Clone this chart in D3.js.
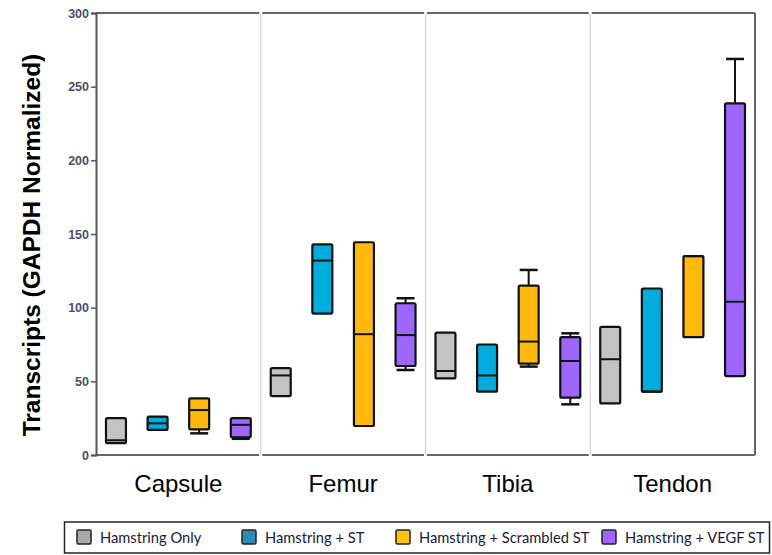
<!DOCTYPE html>
<html><head><meta charset="utf-8">
<script src="https://cdn.jsdelivr.net/npm/d3@7"></script>
<style>body{margin:0;background:#fff}svg{display:block}</style>
</head><body>
<svg id="chart" width="772" height="555"></svg>
<script>
// ---- data ----
const tissues = ["Capsule", "Femur", "Tibia", "Tendon"];
const groups = ["Hamstring Only", "Hamstring + ST", "Hamstring + Scrambled ST", "Hamstring + VEGF ST"];
const yTicks = [0, 50, 100, 150, 200, 250, 300];
// [min, q1, median, q3, max] per tissue
const hamstringOnly  = [[8, 8, 10, 25, 25], [40, 40, 54, 59, 59], [52, 52, 57, 83, 83], [35, 35, 65, 87, 87]];
const hamstringST    = [[17, 17, 21.5, 26, 26], [96, 96, 132, 143, 143], [43, 43, 54, 75, 75], [43, 43, 43, 113, 113]];
const hamstringScr   = [[14.7, 17.4, 30.5, 38.5, 38.5], [19.7, 19.7, 82, 144.4, 144.4], [60, 62, 77, 115, 125.6], [80, 80, 135, 135, 135]];
const hamstringVEGF  = [[11, 12, 20.5, 25, 25], [57.7, 60.4, 81.4, 103, 106.4], [34.4, 38.9, 63.8, 80, 82.6], [53.6, 53.6, 104, 238.7, 268.8]];
const seriesData = [hamstringOnly, hamstringST, hamstringScr, hamstringVEGF];
const boxColors = ["#c3c3c3", "#00acdc", "#ffb90f", "#9c66ff"];
const legendColors = ["#a9a9a9", "#2b8db3", "#ffc20e", "#9c66ff"];

// ---- layout ----
const svg = d3.select("#chart");
const L = 96, R = 755, T = 13, B = 455;
const y = d3.scaleLinear().domain([0, 300]).range([B, T]);
const xOuter = d3.scaleBand().domain(tissues).range([L, R]).padding(0);
const xInner = d3.scaleBand().domain(groups).range([0, xOuter.bandwidth()]).paddingInner(0.52).paddingOuter(0.24);

// separators
svg.selectAll("line.sep").data(tissues.slice(1)).join("line")
  .attr("x1", d => xOuter(d)).attr("x2", d => xOuter(d))
  .attr("y1", T).attr("y2", B)
  .attr("stroke", "#dcdcdc").attr("stroke-width", 1.5);
// top / bottom border segments per panel
tissues.forEach(t => {
  const x0 = xOuter(t) + (t === tissues[0] ? 0 : 1.5), x1 = xOuter(t) + xOuter.bandwidth() - (t === tissues[3] ? 0 : 1.5);
  [T, B].forEach(yy => svg.append("line").attr("x1", x0).attr("x2", x1).attr("y1", yy).attr("y2", yy)
    .attr("stroke", "#666").attr("stroke-width", 2));
});
svg.append("line").attr("x1", R).attr("x2", R).attr("y1", T).attr("y2", B).attr("stroke", "#666").attr("stroke-width", 2);

// y axis
const yAxis = svg.append("g").attr("transform", `translate(${L},0)`)
  .call(d3.axisLeft(y).tickValues(yTicks).tickSize(5).tickPadding(2));
yAxis.select(".domain").attr("stroke", "#555").attr("stroke-width", 2);
yAxis.selectAll(".tick line").attr("stroke", "#555").attr("stroke-width", 1.5);
yAxis.selectAll(".tick text").attr("fill", "#4d4d6e").attr("font-family", "Liberation Sans, Arial, sans-serif")
  .attr("font-size", 12.5).attr("font-weight", "bold");

// x labels
svg.selectAll("text.xl").data(tissues).join("text")
  .attr("x", d => xOuter(d) + xOuter.bandwidth() / 2).attr("y", 492)
  .attr("text-anchor", "middle").attr("font-family", "Liberation Sans, Arial, sans-serif")
  .attr("font-size", 24).attr("fill", "#000").text(d => d);

// y title
svg.append("text").attr("transform", `translate(40,245) rotate(-90)`)
  .attr("text-anchor", "middle").attr("font-family", "Liberation Sans, Arial, sans-serif")
  .attr("font-weight", "bold").attr("font-size", 24.5).attr("fill", "#000")
  .text("Transcripts (GAPDH Normalized)");

// boxes
const bw = xInner.bandwidth();
groups.forEach((g, gi) => {
  tissues.forEach((t, ti) => {
    const [mn, q1, md, q3, mx] = seriesData[gi][ti];
    const cx = xOuter(t) + xInner(g) + bw / 2;
    const gEl = svg.append("g");
    const cap = bw * 0.9;
    if (mx > q3) {
      gEl.append("line").attr("x1", cx).attr("x2", cx).attr("y1", y(q3)).attr("y2", y(mx)).attr("stroke", "#111").attr("stroke-width", 2);
      gEl.append("line").attr("x1", cx - cap / 2).attr("x2", cx + cap / 2).attr("y1", y(mx)).attr("y2", y(mx)).attr("stroke", "#111").attr("stroke-width", 2.5);
    }
    if (mn < q1) {
      gEl.append("line").attr("x1", cx).attr("x2", cx).attr("y1", y(q1)).attr("y2", y(mn)).attr("stroke", "#111").attr("stroke-width", 2);
      gEl.append("line").attr("x1", cx - cap / 2).attr("x2", cx + cap / 2).attr("y1", y(mn)).attr("y2", y(mn)).attr("stroke", "#111").attr("stroke-width", 2.5);
    }
    gEl.append("rect").attr("x", cx - bw / 2).attr("width", bw)
      .attr("y", y(q3)).attr("height", y(q1) - y(q3)).attr("rx", 1.5)
      .attr("fill", boxColors[gi]).attr("stroke", "#111").attr("stroke-width", 2.2);
    gEl.append("line").attr("x1", cx - bw / 2).attr("x2", cx + bw / 2).attr("y1", y(md)).attr("y2", y(md))
      .attr("stroke", "#111").attr("stroke-width", 2);
  });
});

// legend
svg.append("rect").attr("x", 64.5).attr("y", 522).attr("width", 705).attr("height", 31)
  .attr("fill", "#fff").attr("stroke", "#222").attr("stroke-width", 1.5);
const legX = [77, 242, 396, 602];
const legG = svg.selectAll("g.leg").data(groups).join("g").attr("transform", (d, i) => `translate(${legX[i]},530)`);
legG.append("rect").attr("width", 14).attr("height", 14).attr("rx", 1.5)
  .attr("fill", (d, i) => legendColors[i]).attr("stroke", "#222").attr("stroke-width", 1.5);
legG.append("text").attr("x", 23).attr("y", 12.5).attr("font-family", "Lato, sans-serif")
  .attr("font-size", 14.7).attr("fill", "#1a1a3a").text(d => d);
</script>
</body></html>
